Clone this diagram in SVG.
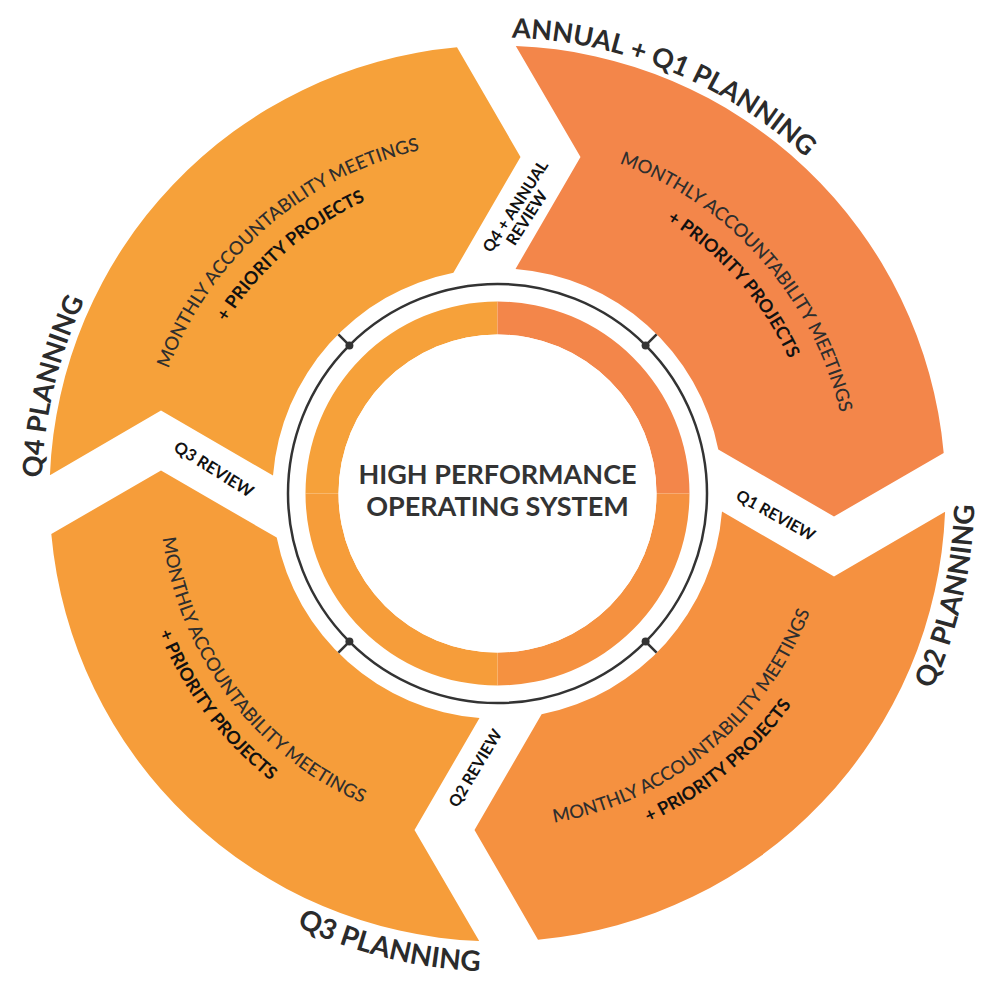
<svg xmlns="http://www.w3.org/2000/svg" xmlns:xlink="http://www.w3.org/1999/xlink" width="1000" height="994" viewBox="0 0 1000 994">
<defs>
<style>
.outer{font-family:Lato,"Liberation Sans",sans-serif;font-weight:700;font-size:27px;fill:#2b2b2b}
.outer2{font-family:Lato,"Liberation Sans",sans-serif;font-weight:700;font-size:28px;fill:#2b2b2b}
.mon{font-family:Lato,"Liberation Sans",sans-serif;font-weight:500;font-size:18.5px;fill:#2e2e2e}
.pri{font-family:Lato,"Liberation Sans",sans-serif;font-weight:700;font-size:18px;fill:#111}
.gap{font-family:Lato,"Liberation Sans",sans-serif;font-weight:700;font-size:16px;fill:#111;text-anchor:middle}
.center{font-family:Lato,"Liberation Sans",sans-serif;font-weight:700;font-size:27px;fill:#333;text-anchor:middle}
.tick{stroke:#333;stroke-width:2.5;fill:none}
</style>
<path id="seg" d="M18.3,-447.6 A448,448 0 0 1 446.2,-40.5 L336.5,23 L220.8,-44.1 A225,225 0 0 0 18,-224.5 L83,-336.5 Z"/>
<path id="pQ1" d="M511.8,37.7 A456,456 0 0 1 926,337.5"/>
<path id="pQ2" d="M862.1,799.5 A477,477 0 0 0 974.4,505.1"/>
<path id="pQ3" d="M160.9,830.1 A478,478 0 0 0 480.1,971.2"/>
<path id="pQ4" d="M41.8,477.6 A456,456 0 0 1 204.4,144.2"/>
<path id="m1" d="M549.5,145.4 A352,352 0 0 1 849.4,484.3"/>
<path id="r1" d="M544.9,176 A321,321 0 0 1 818.4,485.1"/>
<path id="m4" d="M149.8,438.4 A352,352 0 0 1 491.4,141.6"/>
<path id="r4" d="M180.5,443.3 A321,321 0 0 1 491.9,172.5"/>
<path id="m2" d="M494.6,827.5 A334,334 0 0 0 825.9,554.4"/>
<path id="r2" d="M494.3,855.5 A362,362 0 0 0 853.4,559.5"/>
<path id="m3" d="M160,475.8 A338,338 0 0 0 421.5,822.8"/>
<path id="r3" d="M132,474.3 A366,366 0 0 0 415.2,850.1"/>
</defs>
<rect width="1000" height="994" fill="#fff"/>

<g id="segment-q1">
<use xlink:href="#seg" href="#seg" transform="translate(497.5,493.5)" fill="#F3864A"/>
<text class="outer"><textPath href="#pQ1" xlink:href="#pQ1">ANNUAL + Q1 PLANNING</textPath></text>
<text class="mon" text-anchor="middle"><textPath href="#m1" xlink:href="#m1" startOffset="50%">MONTHLY ACCOUNTABILITY MEETINGS</textPath></text>
<text class="pri" text-anchor="middle"><textPath href="#r1" xlink:href="#r1" startOffset="50%">+ PRIORITY PROJECTS</textPath></text>
</g>
<g id="segment-q2">
<use xlink:href="#seg" href="#seg" transform="translate(497.5,493.5) rotate(90)" fill="#F59140"/>
<text class="outer2" text-anchor="end"><textPath href="#pQ2" xlink:href="#pQ2" startOffset="100%">Q2 PLANNING</textPath></text>
<text class="mon" text-anchor="middle"><textPath href="#m2" xlink:href="#m2" startOffset="50%">MONTHLY ACCOUNTABILITY MEETINGS</textPath></text>
<text class="pri" text-anchor="middle"><textPath href="#r2" xlink:href="#r2" startOffset="50%">+ PRIORITY PROJECTS</textPath></text>
</g>
<g id="segment-q3">
<use xlink:href="#seg" href="#seg" transform="translate(497.5,493.5) rotate(180)" fill="#F69D3A"/>
<text class="outer2" text-anchor="end"><textPath href="#pQ3" xlink:href="#pQ3" startOffset="100%">Q3 PLANNING</textPath></text>
<text class="mon" text-anchor="middle"><textPath href="#m3" xlink:href="#m3" startOffset="50%">MONTHLY ACCOUNTABILITY MEETINGS</textPath></text>
<text class="pri" text-anchor="middle"><textPath href="#r3" xlink:href="#r3" startOffset="50%">+ PRIORITY PROJECTS</textPath></text>
</g>
<g id="segment-q4">
<use xlink:href="#seg" href="#seg" transform="translate(497.5,493.5) rotate(270)" fill="#F6A13A"/>
<text class="outer"><textPath href="#pQ4" xlink:href="#pQ4">Q4 PLANNING</textPath></text>
<text class="mon" text-anchor="middle"><textPath href="#m4" xlink:href="#m4" startOffset="50%">MONTHLY ACCOUNTABILITY MEETINGS</textPath></text>
<text class="pri" text-anchor="middle"><textPath href="#r4" xlink:href="#r4" startOffset="50%">+ PRIORITY PROJECTS</textPath></text>
</g>

<g id="gap-labels">
<text class="gap" transform="translate(515,206) rotate(-57)" y="6">Q4 + ANNUAL</text>
<text class="gap" transform="translate(526.5,217.5) rotate(-57)" y="6">REVIEW</text>
<text class="gap" transform="translate(776,515) rotate(29)" y="6">Q1 REVIEW</text>
<text class="gap" transform="translate(475,768) rotate(-59)" y="6">Q2 REVIEW</text>
<text class="gap" transform="translate(214,469) rotate(32)" y="6" style="font-size:16.5px">Q3 REVIEW</text>
</g>

<g id="hub">
<path d="M305.5,493.5 A192,192 0 0 1 497.5,301.5 L497.5,334.5 A159,159 0 0 0 338.5,493.5 Z" fill="#F6A13A"/>
<path d="M497.5,301.5 A192,192 0 0 1 689.5,493.5 L656.5,493.5 A159,159 0 0 0 497.5,334.5 Z" fill="#F3864A"/>
<path d="M689.5,493.5 A192,192 0 0 1 497.5,685.5 L497.5,652.5 A159,159 0 0 0 656.5,493.5 Z" fill="#F59140"/>
<path d="M497.5,685.5 A192,192 0 0 1 305.5,493.5 L338.5,493.5 A159,159 0 0 0 497.5,652.5 Z" fill="#F69D3A"/>
<circle cx="497.5" cy="493.5" r="159" fill="#fff"/>
<text class="center" x="497.5" y="484">HIGH PERFORMANCE</text>
<text class="center" x="497.5" y="516">OPERATING SYSTEM</text>
</g>

<g id="connectors">
<circle class="tick" cx="497.5" cy="493.5" r="209.5"/>
<line class="tick" x1="645.6" y1="345.4" x2="656.6" y2="334.4"/>
<line class="tick" x1="645.6" y1="641.6" x2="656.6" y2="652.6"/>
<line class="tick" x1="349.4" y1="641.6" x2="338.4" y2="652.6"/>
<line class="tick" x1="349.4" y1="345.4" x2="338.4" y2="334.4"/>
<circle cx="645.6" cy="345.4" r="4" fill="#333"/>
<circle cx="645.6" cy="641.6" r="4" fill="#333"/>
<circle cx="349.4" cy="641.6" r="4" fill="#333"/>
<circle cx="349.4" cy="345.4" r="4" fill="#333"/>
</g>
</svg>
